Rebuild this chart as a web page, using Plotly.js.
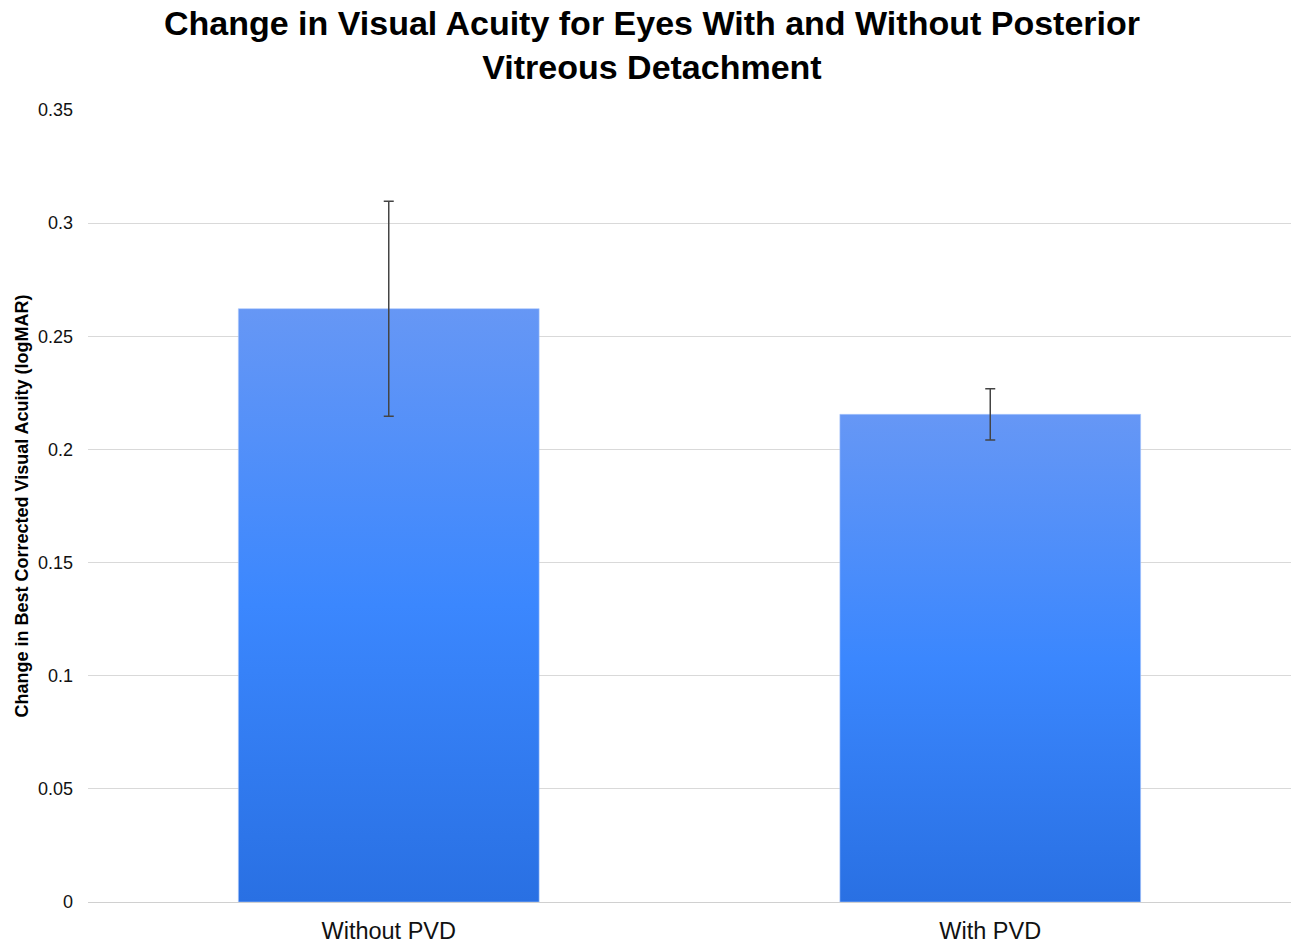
<!DOCTYPE html>
<html>
<head>
<meta charset="utf-8">
<script src="https://cdn.plot.ly/plotly-3.0.1.min.js"></script>
<style>
html,body{margin:0;padding:0;background:#fff;}
#chart{width:1291px;height:942px;}
</style>
</head>
<body>
<div id="chart"></div>
<script>
const categories = ["Without PVD", "With PVD"];
const meanChange = [0.2622, 0.2155];
const errorHalf = [0.0475, 0.0113];
const yTickValues = [0, 0.05, 0.1, 0.15, 0.2, 0.25, 0.3, 0.35];
const yTickLabels = ["0", "0.05", "0.1", "0.15", "0.2", "0.25", "0.3", "0.35"];

const trace = {
  type: "bar",
  x: categories,
  y: meanChange,
  marker: {color: "#3b87fe", line: {color: "#a9c6fb", width: 0.6}},
  error_y: {type: "data", array: errorHalf, visible: true, color: "#444444", thickness: 1.5, width: 5},
  hoverinfo: "none"
};

const layout = {
  width: 1291,
  height: 942,
  margin: {l: 88, r: 0, t: 110, b: 40},
  paper_bgcolor: "#ffffff",
  plot_bgcolor: "#ffffff",
  font: {family: "Liberation Sans, Arial, sans-serif", color: "#000000"},
  title: {
    text: "<b>Change in Visual Acuity for Eyes With and Without Posterior<br>Vitreous Detachment</b>",
    font: {size: 34, color: "#000000", family: "Liberation Sans, Arial, sans-serif"},
    x: 0.505, xref: "container", xanchor: "center",
    y: 0.963, yref: "container", yanchor: "top"
  },
  bargap: 0.5,
  showlegend: false,
  xaxis: {
    type: "category",
    range: [-0.5, 1.5],
    showgrid: false,
    showline: false,
    zeroline: false,
    ticks: "",
    tickfont: {size: 23.5, color: "#111111"},
    ticklabelstandoff: 12
  },
  yaxis: {
    range: [0, 0.35],
    tickvals: yTickValues,
    ticktext: yTickLabels,
    tickfont: {size: 18, color: "#111111"},
    showgrid: true,
    gridcolor: "#d9d9d9",
    gridwidth: 1,
    zeroline: true,
    zerolinecolor: "#d0d0d0",
    zerolinewidth: 1,
    showline: false,
    ticks: "",
    ticklabelstandoff: 14,
    title: {
      text: "<b>Change in Best Corrected Visual Acuity (logMAR)</b>",
      font: {size: 18, color: "#000000"},
      standoff: 4
    }
  }
};

Plotly.newPlot("chart", [trace], layout, {displayModeBar: false, staticPlot: true}).then(function(gd){
  const svg = gd.querySelector("svg.main-svg");
  const ns = "http://www.w3.org/2000/svg";
  let defs = svg.querySelector("defs");
  if (!defs) { defs = document.createElementNS(ns, "defs"); svg.insertBefore(defs, svg.firstChild); }
  const grad = document.createElementNS(ns, "linearGradient");
  grad.setAttribute("id", "barGrad");
  grad.setAttribute("x1", "0"); grad.setAttribute("y1", "0");
  grad.setAttribute("x2", "0"); grad.setAttribute("y2", "1");
  [["0", "#6697f5"], ["0.5", "#3b87fe"], ["1", "#2970e3"]].forEach(function(s){
    const st = document.createElementNS(ns, "stop");
    st.setAttribute("offset", s[0]);
    st.setAttribute("stop-color", s[1]);
    grad.appendChild(st);
  });
  defs.appendChild(grad);
  gd.querySelectorAll(".barlayer .point path").forEach(function(p){
    p.style.fill = "url(#barGrad)";
  });
});
</script>
</body>
</html>
